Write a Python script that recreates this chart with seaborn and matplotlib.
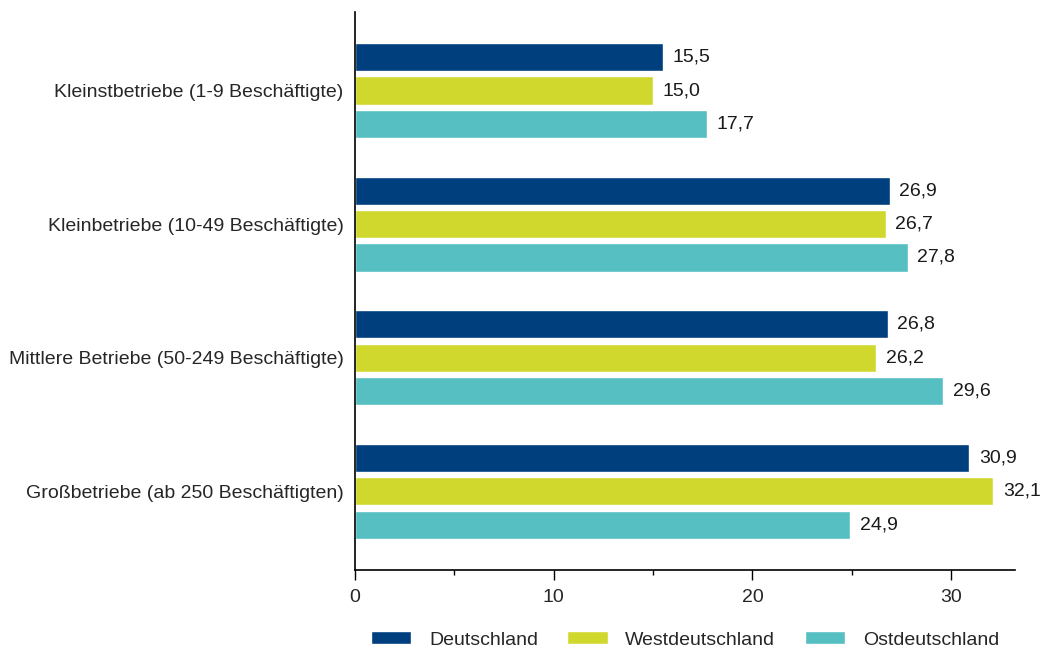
import numpy as np
import pandas as pd
import matplotlib
matplotlib.use("Agg")
import matplotlib.pyplot as plt
import seaborn as sns

categories = ["Kleinstbetriebe (1-9 Beschäftigte)",
              "Kleinbetriebe (10-49 Beschäftigte)",
              "Mittlere Betriebe (50-249 Beschäftigte)",
              "Großbetriebe (ab 250 Beschäftigten)"]
regions = ["Deutschland", "Westdeutschland", "Ostdeutschland"]
deutschland = [15.5, 26.9, 26.8, 30.9]
west = [15.0, 26.7, 26.2, 32.1]
ost = [17.7, 27.8, 29.6, 24.9]
colors = ["#003f7d", "#d0d82e", "#56bfc1"]

df = pd.DataFrame({
    "Betrieb": categories * 3,
    "Region": [r for r in regions for _ in categories],
    "Wert": deutschland + west + ost,
})

sns.set_style("white")
plt.rcParams["font.family"] = ["Liberation Sans", "DejaVu Sans"]

fig = plt.figure(figsize=(10.4, 6.5), dpi=100)
ax = fig.add_axes([0.341, 0.123, 0.635, 0.859])

sns.barplot(data=df, y="Betrieb", x="Wert", hue="Region", order=categories,
            hue_order=regions, palette=colors, width=0.75, gap=0.16,
            saturation=1, orient="h", ax=ax, legend=True)

for cont in ax.containers:
    ax.bar_label(cont, labels=[f"{v:.1f}".replace(".", ",") for v in cont.datavalues],
                 padding=7, fontsize=14, color="#1a1a1a")

ax.set_xlim(0, 33.2)
ax.set_ylim(3.59, -0.59)
ax.set_xticks([0, 10, 20, 30])
ax.set_xticks([5, 15, 25], minor=True)
ax.tick_params(axis="x", which="major", length=7, width=1, color="black",
               labelsize=14, pad=7, direction="out", bottom=True)
ax.tick_params(axis="x", which="minor", length=3.5, width=1, color="black",
               direction="out", bottom=True)
ax.tick_params(axis="y", length=0, labelsize=14, pad=8)
ax.set_xlabel("")
ax.set_ylabel("")
for s in ["top", "right"]:
    ax.spines[s].set_visible(False)
for s in ["left", "bottom"]:
    ax.spines[s].set_color("black")
    ax.spines[s].set_linewidth(1.2)

handles, labels = ax.get_legend_handles_labels()
ax.legend(handles, labels, loc="center", bbox_to_anchor=(0.5, -0.125),
          ncol=3, frameon=False, fontsize=14, handlelength=2.1, handleheight=0.65,
          columnspacing=1.5, handletextpad=0.9)

fig.savefig("out.png", dpi=100)
